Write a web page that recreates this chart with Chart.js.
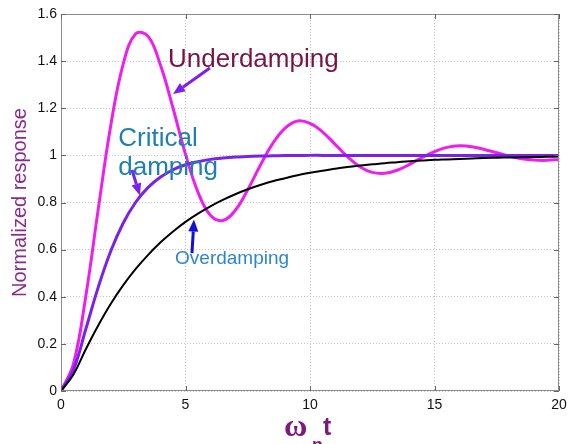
<!DOCTYPE html>
<html>
<head>
<meta charset="utf-8">
<script src="https://cdn.jsdelivr.net/npm/chart.js@4/dist/chart.umd.min.js"></script>
<style>
  html, body { margin: 0; padding: 0; background: #fff; }
  #wrap { width: 568px; height: 444px; position: relative; }
</style>
</head>
<body>
<div id="wrap"><canvas id="stepChart"></canvas></div>
<script>
// time axis (omega_n * t)
const tValues = [0, 0.5, 1, 1.5, 2, 2.5, 3, 3.5, 4, 4.5, 5, 5.5, 6, 6.5, 7, 7.5, 8, 8.5, 9, 9.5,
  10, 10.5, 11, 11.5, 12, 12.5, 13, 13.5, 14, 14.5, 15, 15.5, 16, 16.5, 17, 17.5, 18, 18.5, 19, 19.5, 20];

const underdamped = [0, 0.115, 0.405, 0.775, 1.128, 1.388, 1.516, 1.505, 1.381, 1.2, 1.005, 0.844,
  0.746, 0.724, 0.767, 0.854, 0.957, 1.05, 1.116, 1.146, 1.136, 1.1, 1.048, 0.995, 0.952, 0.928,
  0.924, 0.937, 0.962, 0.991, 1.016, 1.034, 1.041, 1.037, 1.025, 1.011, 0.997, 0.986, 0.98, 0.979, 0.983];

const critical = [0, 0.09, 0.264, 0.442, 0.594, 0.713, 0.801, 0.864, 0.908, 0.939, 0.96, 0.973,
  0.983, 0.989, 0.993, 0.995, 0.997, 0.998, 0.999, 0.999, 1, 1, 1, 1, 1, 1, 1, 1, 1, 1, 1, 1, 1,
  1, 1, 1, 1, 1, 1, 1, 1];

const overdamped = [0, 0.07, 0.178, 0.279, 0.37, 0.449, 0.518, 0.578, 0.631, 0.677, 0.718, 0.753,
  0.784, 0.811, 0.835, 0.856, 0.874, 0.89, 0.903, 0.916, 0.926, 0.935, 0.943, 0.951, 0.957, 0.962,
  0.967, 0.971, 0.975, 0.978, 0.981, 0.983, 0.985, 0.987, 0.989, 0.99, 0.991, 0.992, 0.993, 0.994, 0.995];

const xTicks = [0, 5, 10, 15, 20];
const yTicks = [0, 0.2, 0.4, 0.6, 0.8, 1, 1.2, 1.4, 1.6];

// labels placed in data units: [text, t, value, colour, size]
const labels = [
  ["Underdamping", 4.3, 1.375, "#7a1446", 26],
  ["Critical", 2.3, 1.04, "#1f80b0", 26],
  ["damping", 2.3, 0.918, "#1f80b0", 26],
  ["Overdamping", 4.58, 0.54, "#2f86cc", 19],
];
// arrows: [fromT, fromV, toT, toV, colour]
const arrows = [
  [5.98, 1.371, 4.5, 1.26, "#7d1ff0"],
  [2.85, 0.938, 3.17, 0.83, "#7d1ff0"],
  [5.26, 0.585, 5.34, 0.728, "#1010d8"],
];

const toPts = (ys) => ys.map((y, i) => ({ x: tValues[i], y: y }));

const extras = {
  id: "extras",
  afterDraw(chart) {
    const ctx = chart.ctx;
    const a = chart.chartArea;
    const xs = chart.scales.x;
    const ys = chart.scales.y;
    ctx.save();

    // box
    ctx.strokeStyle = "#8c8c8c";
    ctx.lineWidth = 1;
    ctx.strokeRect(a.left + 0.5, a.top + 0.5, a.right - a.left - 1, a.bottom - a.top - 1);

    // matlab style inner ticks
    ctx.strokeStyle = "#666";
    ctx.beginPath();
    xTicks.forEach((v) => {
      const px = Math.round(xs.getPixelForValue(v)) + 0.5;
      ctx.moveTo(px, a.bottom); ctx.lineTo(px, a.bottom - 5);
      ctx.moveTo(px, a.top); ctx.lineTo(px, a.top + 5);
    });
    yTicks.forEach((v) => {
      const py = Math.round(ys.getPixelForValue(v)) + 0.5;
      ctx.moveTo(a.left, py); ctx.lineTo(a.left + 5, py);
      ctx.moveTo(a.right, py); ctx.lineTo(a.right - 5, py);
    });
    ctx.stroke();

    // annotation texts
    ctx.textBaseline = "alphabetic";
    ctx.textAlign = "left";
    labels.forEach(([txt, t, v, col, size]) => {
      ctx.fillStyle = col;
      ctx.font = size + "px 'Liberation Sans', Arial, sans-serif";
      ctx.fillText(txt, xs.getPixelForValue(t), ys.getPixelForValue(v));
    });

    // arrows
    arrows.forEach(([t0, v0, t1, v1, col]) => {
      const x0 = xs.getPixelForValue(t0), y0 = ys.getPixelForValue(v0);
      const x1 = xs.getPixelForValue(t1), y1 = ys.getPixelForValue(v1);
      const ang = Math.atan2(y1 - y0, x1 - x0);
      const headLen = 12, headW = 5;
      const bx = x1 - headLen * Math.cos(ang), by = y1 - headLen * Math.sin(ang);
      ctx.strokeStyle = col;
      ctx.fillStyle = col;
      ctx.lineWidth = 3;
      ctx.beginPath();
      ctx.moveTo(x0, y0);
      ctx.lineTo(bx, by);
      ctx.stroke();
      ctx.beginPath();
      ctx.moveTo(x1, y1);
      ctx.lineTo(bx + headW * Math.sin(ang), by - headW * Math.cos(ang));
      ctx.lineTo(bx - headW * Math.sin(ang), by + headW * Math.cos(ang));
      ctx.closePath();
      ctx.fill();
    });

    // x axis title: omega_n t
    const cx = (a.left + a.right) / 2;
    ctx.fillStyle = "#7d1a7d";
    ctx.font = "bold 32px 'Liberation Serif', 'Times New Roman', serif";
    ctx.fillText("\u03c9", cx - 26, 436);
    ctx.font = "bold 18px 'Liberation Sans', Arial, sans-serif";
    ctx.fillText("n", cx + 2, 451);
    ctx.font = "bold 25px 'Liberation Sans', Arial, sans-serif";
    ctx.fillText("t", cx + 13, 435);
    ctx.restore();
  },
};

new Chart(document.getElementById("stepChart"), {
  type: "line",
  data: {
    datasets: [
      {
        label: "Overdamping",
        data: toPts(overdamped),
        borderColor: "#000000",
        borderWidth: 2,
      },
      {
        label: "Critical damping",
        data: toPts(critical),
        borderColor: "#7a22e6",
        borderWidth: 3,
      },
      {
        label: "Underdamping",
        data: toPts(underdamped),
        borderColor: "#ee1fee",
        borderWidth: 3,
      },
    ],
  },
  options: {
    responsive: true,
    maintainAspectRatio: false,
    animation: false,
    events: [],
    layout: { padding: { top: 14, right: 9, left: 0, bottom: 0 } },
    elements: {
      point: { radius: 0 },
      line: { tension: 0.4, borderCapStyle: "round" },
    },
    scales: {
      x: {
        type: "linear",
        min: 0,
        max: 20,
        afterFit: (s) => { s.height = 53; s.paddingLeft = 0; s.paddingRight = 0; },
        afterBuildTicks: (s) => { s.ticks = xTicks.map((v) => ({ value: v })); },
        grid: { color: "#c4c4c4", drawTicks: false },
        border: { display: false, dash: [1, 2] },
        ticks: {
          color: "#111",
          padding: 6,
          maxRotation: 0,
          font: { family: "'Liberation Sans', Arial, sans-serif", size: 14 },
        },
      },
      y: {
        min: 0,
        max: 1.6,
        afterFit: (s) => { s.width = 61; s.paddingTop = 0; s.paddingBottom = 0; },
        afterBuildTicks: (s) => { s.ticks = yTicks.map((v) => ({ value: v })); },
        grid: { color: "#c4c4c4", drawTicks: false },
        border: { display: false, dash: [1, 2] },
        ticks: {
          color: "#111",
          padding: 4,
          callback: (v) => String(Math.round(v * 10) / 10),
          font: { family: "'Liberation Sans', Arial, sans-serif", size: 14 },
        },
        title: {
          display: true,
          text: "Normalized response",
          color: "#8a2a8a",
          padding: { top: 8, bottom: 0 },
          font: { family: "'Liberation Sans', Arial, sans-serif", size: 20 },
        },
      },
    },
    plugins: {
      legend: { display: false },
      tooltip: { enabled: false },
    },
  },
  plugins: [extras],
});
</script>
</body>
</html>
